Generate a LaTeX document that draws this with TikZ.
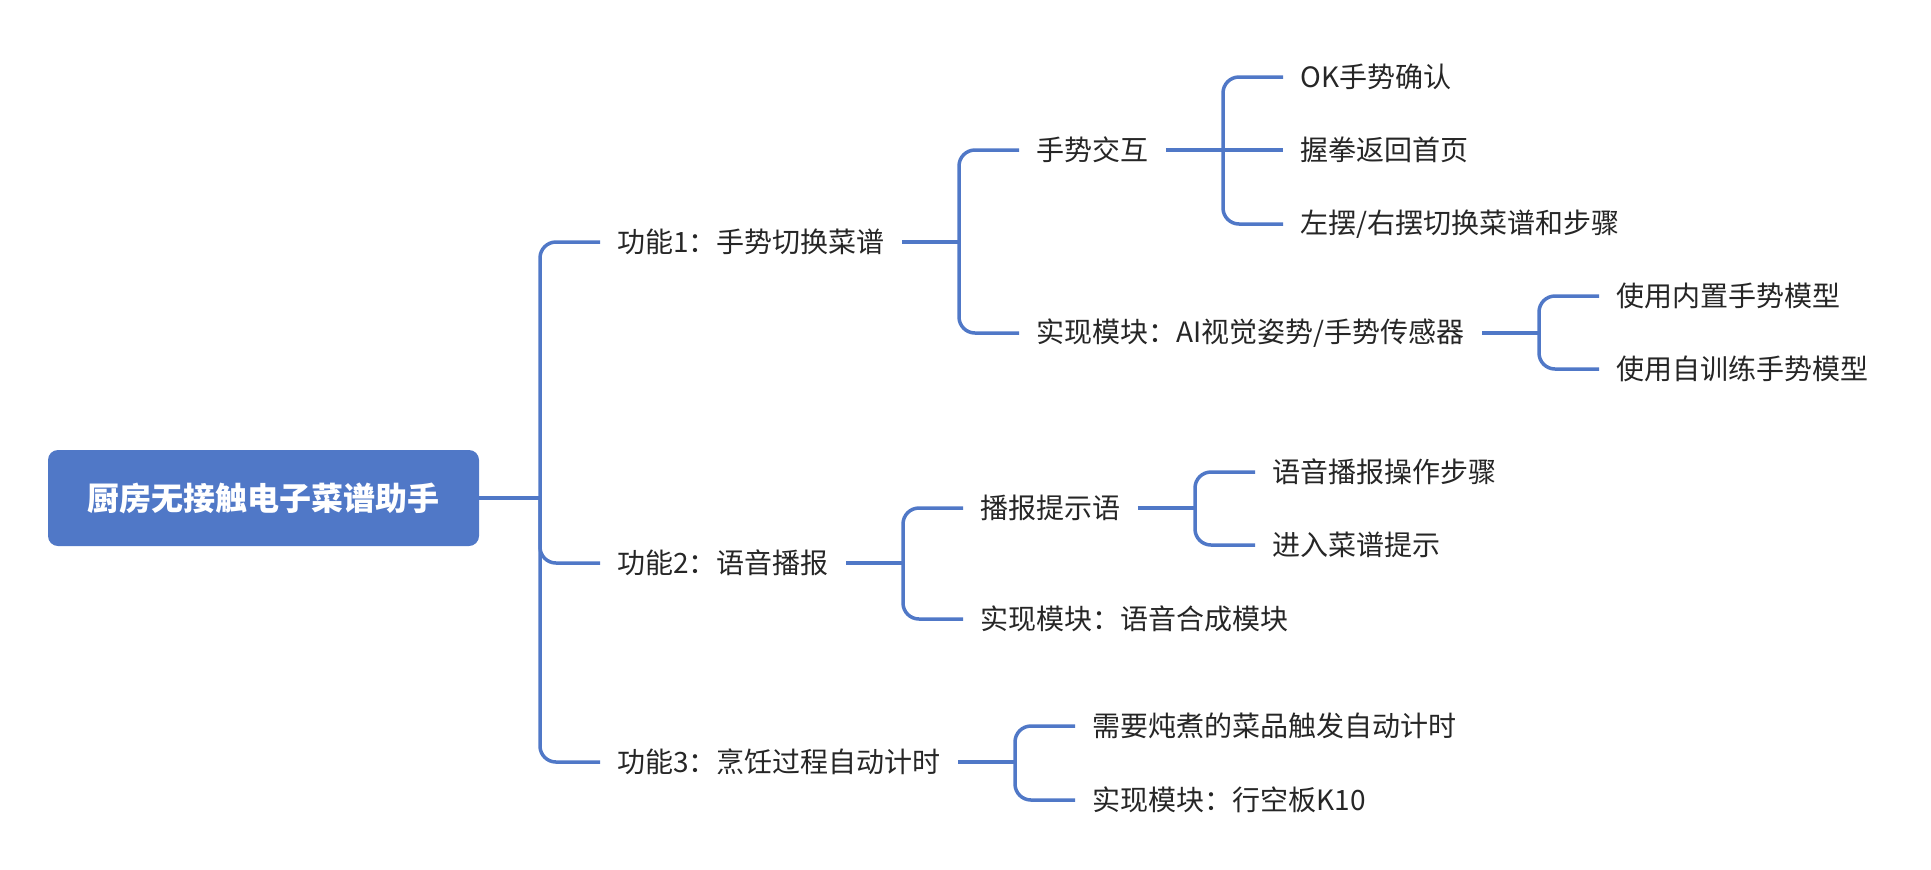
\documentclass[tikz,border=0pt]{standalone}
\usepackage{fontspec}
\setmainfont{Noto Sans CJK SC}
\usepackage{tikz}
\definecolor{mapblue}{HTML}{5078C7}
\definecolor{mapink}{HTML}{262626}

\tikzset{
	topic/.style={anchor=west, inner xsep=8.5pt, inner ysep=2pt, text=mapink, font=\fontsize{14}{16}\selectfont},
	link/.style={draw=mapblue, line width=1.75pt},
	fork/.style={link, rounded corners=8pt},
}

\begin{document}
\begin{tikzpicture}[x=0.5pt, y=-0.5pt]
	\useasboundingbox (0,0) rectangle (1931,869);

	\node[fill=mapblue, rounded corners=5pt, minimum width=215.5pt, minimum height=48pt, text=white, font=\fontsize{16}{19}\selectfont\bfseries] (root) at (263.5,498) {厨房无接触电子菜谱助手};

	\node[topic] (f1) at (600,242) {功能1：手势切换菜谱};
	\node[topic] (f2) at (600,563) {功能2：语音播报};
	\node[topic] (f3) at (600,762) {功能3：烹饪过程自动计时};

	\node[topic] (g1) at (1019,150) {手势交互};
	\node[topic] (g2) at (1019,333) {实现模块：AI视觉姿势/手势传感器};
	\node[topic] (v1) at (963,508) {播报提示语};
	\node[topic] (v2) at (963,619) {实现模块：语音合成模块};
	\node[topic] (t1) at (1075,726) {需要炖煮的菜品触发自动计时};
	\node[topic] (t2) at (1075,800) {实现模块：行空板K10};

	\node[topic] (g1a) at (1283,77) {OK手势确认};
	\node[topic] (g1b) at (1283,150) {握拳返回首页};
	\node[topic] (g1c) at (1283,224) {左摆/右摆切换菜谱和步骤};
	\node[topic] (g2a) at (1599,296) {使用内置手势模型};
	\node[topic] (g2b) at (1599,369) {使用自训练手势模型};
	\node[topic] (v1a) at (1255,472) {语音播报操作步骤};
	\node[topic] (v1b) at (1255,545) {进入菜谱提示};

	\coordinate (j0) at (540,498);
	\coordinate (j1) at (959,242);
	\coordinate (j2) at (903,563);
	\coordinate (j3) at (1015,762);
	\coordinate (jg1) at (1223,150);
	\coordinate (jg2) at (1539,333);
	\coordinate (jv1) at (1195,508);

	\draw[link] (root.east) -- (j0);
	\draw[fork] (j0) |- (f1.west);
	\draw[fork] (j0) |- (f2.west);
	\draw[fork] (j0) |- (f3.west);

	\draw[link] (f1.east) -- (j1);
	\draw[fork] (j1) |- (g1.west);
	\draw[fork] (j1) |- (g2.west);

	\draw[link] (f2.east) -- (j2);
	\draw[fork] (j2) |- (v1.west);
	\draw[fork] (j2) |- (v2.west);

	\draw[link] (f3.east) -- (j3);
	\draw[fork] (j3) |- (t1.west);
	\draw[fork] (j3) |- (t2.west);

	\draw[link] (g1.east) -- (jg1);
	\draw[fork] (jg1) |- (g1a.west);
	\draw[link] (jg1) -- (g1b.west);
	\draw[fork] (jg1) |- (g1c.west);

	\draw[link] (g2.east) -- (jg2);
	\draw[fork] (jg2) |- (g2a.west);
	\draw[fork] (jg2) |- (g2b.west);

	\draw[link] (v1.east) -- (jv1);
	\draw[fork] (jv1) |- (v1a.west);
	\draw[fork] (jv1) |- (v1b.west);

\end{tikzpicture}
\end{document}
